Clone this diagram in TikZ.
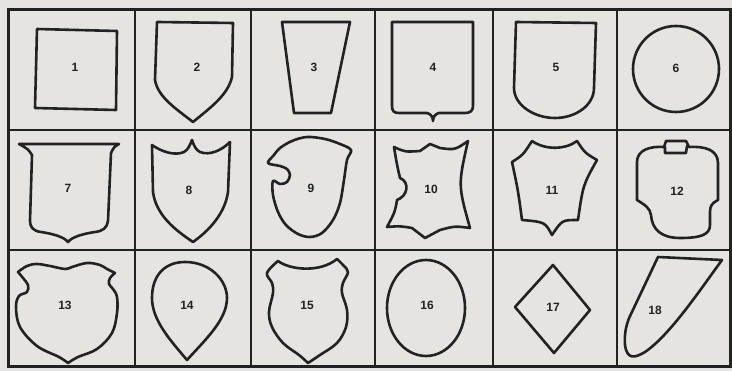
\documentclass[tikz,border=0pt]{standalone}
\usepackage{fontspec}
\setmainfont{Liberation Sans}
\definecolor{paper}{RGB}{229,228,224}
\definecolor{ink}{RGB}{34,34,34}
\tikzset{
  gridline/.style={line width=2pt, draw=ink},
  outerline/.style={line width=3pt, draw=ink},
  shp/.style={line width=2.6pt, draw=ink, line join=round, line cap=round},
  lbl/.style={text=ink, font=\bfseries\fontsize{12}{12}\selectfont, inner sep=0pt}
}
\begin{document}
\begin{tikzpicture}[x=1pt,y=-1pt]
\useasboundingbox (0,0) rectangle (732,371);
\fill[paper] (0,0) rectangle (732,371);
% grid
\foreach \gx in {135,251,375,493,617} \draw[gridline] (\gx,10) -- (\gx,367);
\foreach \gy in {130,250} \draw[gridline] (8,\gy) -- (730,\gy);
\draw[outerline] (8,10) rectangle (730,367);
% 1
\draw[shp] (37,29) -- (117,31) -- (116,110) -- (35,108) -- cycle;
\node[lbl] (l1) at (75,67) {1};
% 2
\draw[shp] (157,22) -- (233,23) -- (232,77) .. controls (228,95) and (210,108) .. (193,122) .. controls (175,108) and (158,97) .. (155,80) -- cycle;
\node[lbl] (l2) at (197,67) {2};
% 3
\draw[shp] (282,22) -- (350,22) -- (331,113) -- (294,113) -- cycle;
\node[lbl] (l3) at (314,67) {3};
% 4
\draw[shp] (392,22) -- (473,22) -- (473,106) .. controls (473,111) and (470,113) .. (465,113) -- (439,113) .. controls (435,114) and (433,117) .. (433,121) .. controls (433,117) and (431,114) .. (427,113) -- (399,113) .. controls (394,113) and (392,111) .. (392,106) -- cycle;
\node[lbl] (l4) at (433,67) {4};
% 5
\draw[shp] (516,22) -- (596,23) -- (594,88) .. controls (594,105) and (576,118) .. (555,118) .. controls (534,118) and (514,105) .. (514,88) -- cycle;
\node[lbl] (l5) at (556,67) {5};
% 6
\draw[shp] (676,69) circle[radius=43];
\node[lbl] (l6) at (676,68) {6};
% 7
\draw[shp] (19,144) -- (119,144) .. controls (114,147) .. (111,153) -- (108,221) .. controls (107,228) and (103,231) .. (95,232) .. controls (82,234) and (72,237) .. (68,242) .. controls (64,237) and (54,234) .. (41,232) .. controls (33,231) and (30,227) .. (30,221) -- (32,155) .. controls (28,149) .. (19,144) -- cycle;
\node[lbl] (l7) at (68,188) {7};
% 8
\draw[shp] (152,145) .. controls (162,152) and (175,156) .. (184,152) .. controls (188,150) and (190,145) .. (192,140) .. controls (194,146) and (196,150) .. (200,152) .. controls (210,156) and (222,150) .. (230,142) -- (228,192) .. controls (225,213) and (210,230) .. (193,242) .. controls (175,230) and (156,215) .. (153,192) -- cycle;
\node[lbl] (l8) at (189,190) {8};
% 9
\draw[shp] plot[smooth cycle, tension=0.55] coordinates {(268,163) (280,166) (287,169) (290,175) (287,182) (280,184) (273,181) (273,195) (278,212) (286,225) (298,234) (310,237) (322,233) (333,220) (340,203) (344,180) (347,160) (351,150) (340,144) (325,139) (307,137) (292,141) (280,148) (274,155)};
\node[lbl] (l9) at (311,188) {9};
% 10
\draw[shp] (394,147) .. controls (405,152) .. (420,151) -- (430,144) -- (440,148) .. controls (455,150) .. (468,141) .. controls (458,185) .. (470,228) .. controls (455,226) .. (440,230) -- (425,238) -- (412,228) .. controls (400,226) .. (387,227) .. controls (395,212) .. (397,200) .. controls (408,196) and (410,182) .. (400,178) .. controls (397,165) .. (394,147) -- cycle;
\node[lbl] (l10) at (431,189) {10};
% 11
\draw[shp] (512,162) .. controls (523,155) .. (532,141) .. controls (545,150) and (565,150) .. (577,141) .. controls (585,153) .. (597,160) .. controls (583,185) .. (578,220) .. controls (562,220) .. (552,235) .. controls (545,222) .. (522,220) .. controls (518,190) .. (512,162) -- cycle;
\node[lbl] (l11) at (552,190) {11};
% 12
\draw[shp] (637,200) -- (637,162) .. controls (637,150) and (650,146) .. (664,147) -- (666,141) -- (686,141) -- (689,147) .. controls (705,146) and (718,150) .. (718,163) -- (718,200) .. controls (712,203) and (710,206) .. (710,212) -- (710,225) .. controls (710,235) and (700,238) .. (680,238) .. controls (662,238) and (652,230) .. (651,215) .. controls (650,208) and (645,205) .. (637,200) -- cycle;
\draw[shp] (665,147) -- (665,153) -- (686,153) -- (687,146);
\node[lbl] (l12) at (677,191) {12};
% 13
\draw[shp] plot[smooth, tension=0.6] coordinates {(18,272) (27,266) (37,264) (50,266) (65,269) (72,267) (87,263) (100,265) (107,269) (115,273)}
  -- plot[smooth, tension=0.6] coordinates {(115,273) (110,278) (109,284) (113,289) (117,297) (117,313) (112,333) (97,349) (78,357) (68,363)}
  -- plot[smooth, tension=0.6] coordinates {(68,363) (59,357) (37,346) (20,327) (16,307) (19,296) (27,292) (28,285) (23,278) (18,272)} -- cycle;
\node[lbl] (l13) at (65,305) {13};
% 14
\draw[shp] (187,360) .. controls (170,340) and (152,320) .. (152,298) .. controls (152,275) and (165,262) .. (185,262) .. controls (210,262) and (227,280) .. (227,298) .. controls (227,320) and (205,340) .. (187,360) -- cycle;
\node[lbl] (l14) at (187,305) {14};
% 15
\draw[shp] (278,261) .. controls (290,270) and (320,273) .. (337,259)
  -- plot[smooth, tension=0.6] coordinates {(337,259) (343,265) (348,272) (343,283) (342,293) (347,310) (346,327) (337,343) (320,355) (308,363)}
  -- plot[smooth, tension=0.6] coordinates {(308,363) (299,355) (283,343) (272,327) (269,312) (273,293) (272,283) (267,273) (278,261)} -- cycle;
\node[lbl] (l15) at (307,305) {15};
% 16
\draw[shp] (426,308) ellipse[x radius=39, y radius=48];
\node[lbl] (l16) at (427,305) {16};
% 17
\draw[shp] (553,265) -- (590,310) -- (554,353) -- (515,307) -- cycle;
\node[lbl] (l17) at (553,307) {17};
% 18
\draw[shp] (658,257) -- (722,260) .. controls (700,290) and (670,335) .. (645,352) .. controls (635,358) and (627,360) .. (625,345) .. controls (624,332) and (627,322) .. (631,314) -- cycle;
\node[lbl] (l18) at (655,310) {18};
\end{tikzpicture}
\end{document}
